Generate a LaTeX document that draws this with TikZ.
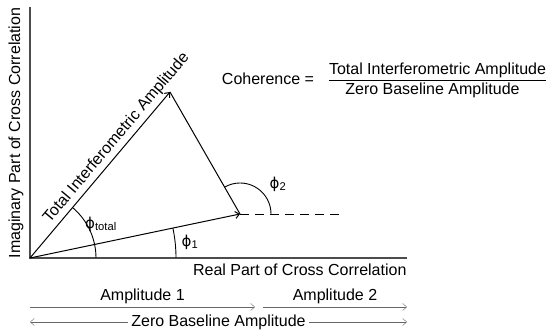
\documentclass[tikz,border=0pt]{standalone}
\usepackage{fontspec}
\setmainfont{Liberation Sans}
\newfontfamily\phifont{DejaVu Sans}
\newcommand{\phisym}{{\phifont\fontsize{15}{18}\selectfont ϕ}}
\usetikzlibrary{arrows.meta}

\begin{document}
\begin{tikzpicture}[x=1pt, y=1pt, font=\fontsize{16}{19}\selectfont,
    >={Straight Barb[length=4pt, width=7pt]}]
    \useasboundingbox (0,0) rectangle (550,334);
    % axis
    \coordinate (O) at (30,76);
    \coordinate (xend) at (407,76);
    \coordinate (yend) at (30,327);
    \path[draw, line width=1.8pt, black!70] (yend) to (O) to (xend);
    \node[anchor=north east] (xlab) at ([shift={(3,-2)}]xend) {Real Part of Cross Correlation};
    \node[rotate=90] (ylab) at (16,201) {Imaginary Part of Cross Correlation};
    % vectors
    \coordinate (A) at (240,120);
    \coordinate (B) at (170,242);
    \coordinate (D) at (343,120);
    \path[draw, line width=1pt, ->] (O) to (A);
    \path[draw, line width=1pt, ->] (O) to node[pos=0.68, above, sloped]{Total Interferometric Amplitude} (B);
    \path[draw, line width=1pt] (B) to (A);
    \path[draw, line width=0.8pt, dash pattern=on 9pt off 6pt] (A) to (D);
    % angles
    \path[draw, line width=0.9pt] ([xshift=66]O) arc[start angle=0, end angle=49.85, radius=66];
    \path[draw, line width=0.9pt] ([xshift=146]O) arc[start angle=0, end angle=11.83, radius=146];
    \path[draw, line width=0.9pt] ([xshift=31]A) arc[start angle=0, end angle=119.85, radius=31];
    \node (phitot) at (101,110) {\phisym\textsubscript{total}};
    \node (phione) at (190,92) {\phisym\textsubscript{1}};
    \node (phitwo) at (278,150) {\phisym\textsubscript{2}};
    % coherence
    \coordinate (bar) at (437.5,254);
    \node[anchor=base, inner xsep=0pt] (num) at ([yshift=5]bar) {Total Interferometric Amplitude};
    \node[anchor=base] (den) at (432.5,239) {Zero Baseline Amplitude};
    \node[anchor=base] (coh) at (268,249) {Coherence =};
    \path[draw, line width=0.8pt] (num.west |- bar) to (num.east |- bar);
    % amplitudes
    \coordinate (al) at (30,27);
    \coordinate (am) at (255,27);
    \coordinate (bl) at (263,27);
    \coordinate (br) at (407,27);
    \coordinate (zl) at (30,12);
    \coordinate (zr) at (407,12);
    \path[draw, black!60, ->] (al) to node[midway, above, black]{Amplitude 1} (am);
    \path[draw, black!60, ->] (bl) to node[midway, above, black]{Amplitude 2} (br);
    \node (zba) at (218.5,12) {Zero Baseline Amplitude};
    \path[draw, black!60, ->] (zba.west) to (zl);
    \path[draw, black!60, ->] (zba.east) to (zr);
\end{tikzpicture}
\end{document}
